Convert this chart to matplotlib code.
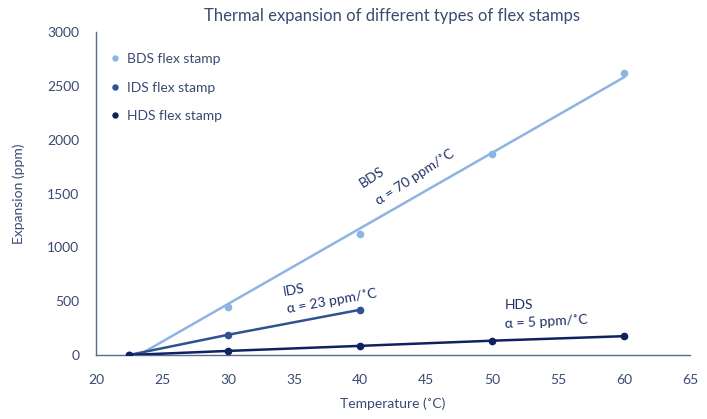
import numpy as np
import matplotlib
matplotlib.use("Agg")
import matplotlib.pyplot as plt

plt.rcParams['font.family'] = ['Lato', 'DejaVu Sans']

temps_bds = [22.5, 30, 40, 50, 60]
bds = [0, 450, 1120, 1865, 2620]
temps_ids = [22.5, 30, 40]
ids = [0, 188, 420]
temps_hds = [22.5, 30, 40, 50, 60]
hds = [0, 38, 85, 133, 175]

c_bds = '#8EB4E3'
c_ids = '#2F5290'
c_hds = '#0E2260'
txt = '#3B4A72'
ann = '#1F2F66'

fig = plt.figure(figsize=(7.07, 4.19), dpi=100)
ax = fig.add_axes([0.1358, 0.1527, 0.8402, 0.7709])

# BDS: points + linear trendline
ax.plot(temps_bds, bds, 'o', color=c_bds, ms=4.5, zorder=3, label='BDS flex stamp')
coef = np.polyfit(temps_bds, bds, 1)
xt = np.array([temps_bds[0], temps_bds[-1]])
ax.plot(xt, np.polyval(coef, xt), '-', color=c_bds, lw=1.8, zorder=2)

ax.plot(temps_ids, ids, 'o-', color=c_ids, ms=4.5, lw=1.8, zorder=4, label='IDS flex stamp')
ax.plot(temps_hds, hds, 'o-', color=c_hds, ms=4.5, lw=1.8, zorder=5, label='HDS flex stamp')

ax.set_xlim(20, 65)
ax.set_ylim(0, 3000)
ax.set_xticks(np.arange(20, 66, 5))
ax.set_yticks(np.arange(0, 3001, 500))
ax.tick_params(axis='x', length=0, labelsize=10, colors=txt, pad=14)
ax.tick_params(axis='y', length=0, labelsize=10, colors=txt, pad=12)
for s in ['top', 'right']:
    ax.spines[s].set_visible(False)
for s in ['left', 'bottom']:
    ax.spines[s].set_color('#5A6A90')
    ax.spines[s].set_linewidth(1.0)

ax.set_xlabel('Temperature (˚C)', fontsize=10, color=txt, labelpad=8)
ax.set_ylabel('Expansion (ppm)', fontsize=10, color=txt, labelpad=16)
fig.text(0.555, 0.962, 'Thermal expansion of different types of flex stamps',
         ha='center', va='center', fontsize=12, color=txt)

leg = ax.legend(loc='upper left', bbox_to_anchor=(-0.013, 1.0), frameon=False,
                fontsize=10, labelcolor=txt, handletextpad=0.4, handlelength=0.9,
                labelspacing=1.2, markerscale=0.8, borderaxespad=1.1)
for h in leg.legend_handles:
    h.set_linestyle('')

ax.text(40.2, 1550, 'BDS', rotation=33, rotation_mode='anchor', ha='left', va='baseline',
        fontsize=10, color=ann)
ax.text(41.4, 1393, 'α = 70 ppm/˚C', rotation=33, rotation_mode='anchor', ha='left',
        va='baseline', fontsize=10, color=ann)
ax.text(34.2, 548, 'IDS', rotation=10, rotation_mode='anchor', ha='left', va='baseline',
        fontsize=10, color=ann)
ax.text(34.5, 390, 'α = 23 ppm/˚C', rotation=10, rotation_mode='anchor', ha='left',
        va='baseline', fontsize=10, color=ann)
ax.text(51.0, 430, 'HDS', rotation=0, ha='left', va='baseline', fontsize=10, color=ann)
ax.text(51.0, 250, 'α = 5 ppm/˚C', rotation=3, rotation_mode='anchor', ha='left',
        va='baseline', fontsize=10, color=ann)

fig.savefig('out.png', dpi=100)
